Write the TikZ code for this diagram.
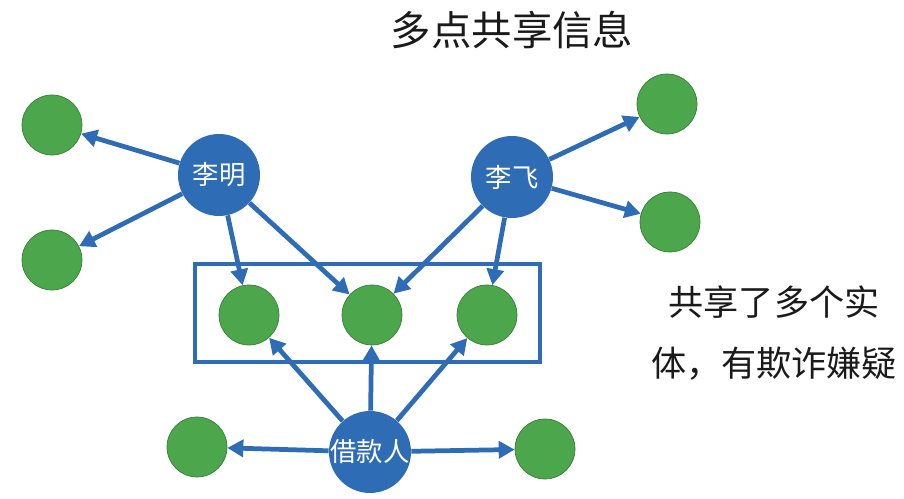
\documentclass[tikz,border=0pt]{standalone}
\usepackage{fontspec}
\setmainfont{Noto Sans CJK SC}
\usetikzlibrary{arrows.meta}
\definecolor{Blu}{HTML}{2E6DB6}
\definecolor{Verde}{HTML}{4CA64C}
\definecolor{Scuro}{HTML}{1A1A1A}
\tikzset{
    bluenode/.style={circle, fill=Blu, minimum size=1.64cm, inner sep=0pt},
    greennode/.style={circle, fill=Verde, draw=Verde!75!black, thin, minimum size=1.2cm, inner sep=0pt},
    nametext/.style={text=white, font=\fontsize{15}{15}\selectfont, inner sep=0pt},
    link/.style={-{Triangle[length=0.32cm, width=0.34cm]}, line width=2.7pt, color=Blu},
    frame/.style={draw=Blu, line width=1.9pt},
}

\begin{document}
\begin{tikzpicture}[x=0.02cm, y=-0.02cm]
    \useasboundingbox (0,0) rectangle (904,499);

    % Titolo
    \node[text=Scuro, font=\fontsize{23}{23}\selectfont] (title) at (512,30) {多点共享信息};

    % Riquadro delle entita condivise
    \draw[frame] (195,264) rectangle (540,362);

    % Nodi principali
    \node[bluenode] (liming) at (219,175) {};
    \node[bluenode] (lifei) at (512,177) {};
    \node[bluenode] (borrower) at (370,452) {};
    \node[nametext] (liming-t) at (liming) {李明};
    \node[nametext] (lifei-t) at (lifei) {李飞};
    \node[nametext] (borrower-t) at (borrower) {借款人};

    % Entita
    \node[greennode] (gtl) at (52,125) {};
    \node[greennode] (gbl) at (52,260) {};
    \node[greennode] (gtr) at (667,104) {};
    \node[greennode] (gbr) at (670,222) {};
    \node[greennode] (ga) at (249,315) {};
    \node[greennode] (gb) at (372,315) {};
    \node[greennode] (gc) at (487,315) {};
    \node[greennode] (gdl) at (197,447) {};
    \node[greennode] (gdr) at (545,449) {};

    % Collegamenti
    \draw[link] (liming) -- (gtl);
    \draw[link] (liming) -- (gbl);
    \draw[link] (liming) -- (ga);
    \draw[link] (liming) -- (gb);
    \draw[link] (lifei) -- (gtr);
    \draw[link] (lifei) -- (gbr);
    \draw[link] (lifei) -- (gb);
    \draw[link] (lifei) -- (gc);
    \draw[link] (borrower) -- (ga);
    \draw[link] (borrower) -- (gb);
    \draw[link] (borrower) -- (gc);
    \draw[link] (borrower) -- (gdl);
    \draw[link] (borrower) -- (gdr);

    % Nota a destra
    \node[text=Scuro, align=center, font=\fontsize{20}{35}\selectfont] (note) at (774,333) {共享了多个实\\体，有欺诈嫌疑};
\end{tikzpicture}
\end{document}
